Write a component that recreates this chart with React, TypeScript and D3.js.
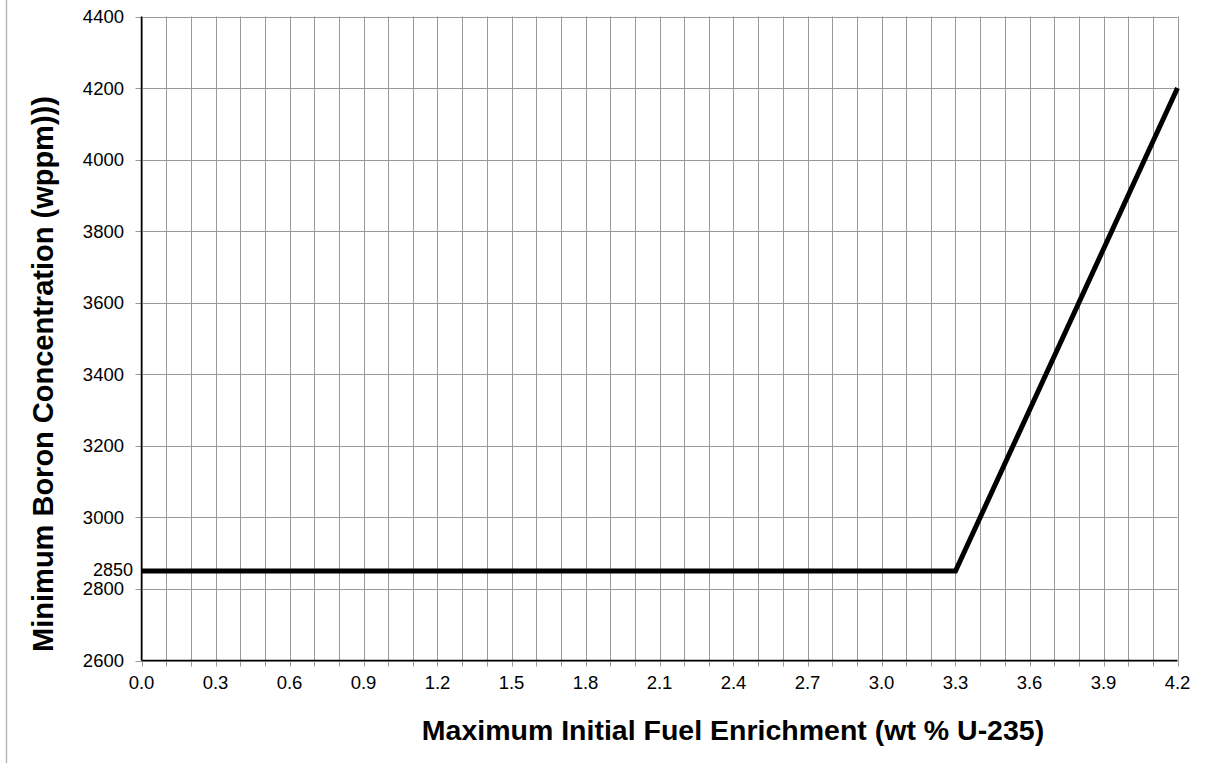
import React from "react";
import * as d3 from "d3";

const enrichment = [0.0, 3.3, 4.2];
const boron = [2850, 2850, 4200];
const xTickValues = d3.range(0, 43).map((i) => +(i * 0.1).toFixed(1));
const xLabelValues = [0.0, 0.3, 0.6, 0.9, 1.2, 1.5, 1.8, 2.1, 2.4, 2.7, 3.0, 3.3, 3.6, 3.9, 4.2];
const yTickValues = [2600, 2800, 3000, 3200, 3400, 3600, 3800, 4000, 4200, 4400];
const extraYLabel = 2850;
const xTitle = "Maximum Initial Fuel Enrichment (wt % U-235)";
const yTitle = "Minimum Boron Concentration (wppm)))";

const W = 1206;
const H = 763;
const left = 141.5;
const right = 1177.5;
const top = 16.5;
const bottom = 660.5;

export default function App() {
  const x = d3.scaleLinear().domain([0, 4.2]).range([left, right]);
  const y = d3.scaleLinear().domain([2600, 4400]).range([bottom, top]);
  const pts = enrichment.map((e, i) => [e, boron[i]] as [number, number]);
  const line = d3.line<[number, number]>().x((d) => x(d[0])).y((d) => y(d[1]));
  const font = "'Liberation Sans', Arial, sans-serif";
  return (
    <svg width={W} height={H} style={{ position: "absolute", left: 0, top: 0, background: "#fff" }}>
      <line x1={6.5} x2={6.5} y1={0} y2={H} stroke="#bbb" strokeWidth={1.5} />
      {xTickValues.map((v) => (
        <line key={"gx" + v} x1={Math.round(x(v)) + 0.5} x2={Math.round(x(v)) + 0.5} y1={top} y2={bottom} stroke="#999" strokeWidth={1} />
      ))}
      {yTickValues.map((v) => (
        <line key={"gy" + v} x1={left} x2={right} y1={Math.round(y(v)) + 0.5} y2={Math.round(y(v)) + 0.5} stroke="#999" strokeWidth={1} />
      ))}
      {xTickValues.map((v) => (
        <line key={"tx" + v} x1={Math.round(x(v)) + 0.5} x2={Math.round(x(v)) + 0.5} y1={bottom} y2={bottom + 6} stroke="#999" strokeWidth={1} />
      ))}
      {yTickValues.map((v) => (
        <line key={"ty" + v} x1={left - 6} x2={left} y1={Math.round(y(v)) + 0.5} y2={Math.round(y(v)) + 0.5} stroke="#999" strokeWidth={1} />
      ))}
      <line x1={left} x2={left} y1={top} y2={bottom} stroke="#000" strokeWidth={1.5} />
      <line x1={left} x2={right} y1={bottom} y2={bottom} stroke="#000" strokeWidth={1.5} />
      {xLabelValues.map((v) => (
        <text key={"lx" + v} x={x(v)} y={689} textAnchor="middle" fontFamily={font} fontSize={18.5} fill="#000">
          {v.toFixed(1)}
        </text>
      ))}
      {yTickValues.map((v) => (
        <text key={"ly" + v} x={124} y={y(v)} dy="0.35em" textAnchor="end" fontFamily={font} fontSize={18.5} fill="#000">
          {v}
        </text>
      ))}
      <text x={133} y={y(extraYLabel) - 1} dy="0.35em" textAnchor="end" fontFamily={font} fontSize={18} fill="#000">
        {extraYLabel}
      </text>
      <path d={line(pts) || ""} fill="none" stroke="#000" strokeWidth={5} strokeLinejoin="miter" />
      <text x={733} y={739.5} textAnchor="middle" fontFamily={font} fontSize={28.5} fontWeight="bold" fill="#000">
        {xTitle}
      </text>
      <text transform={`translate(53,${374}) rotate(-90)`} textAnchor="middle" fontFamily={font} fontSize={29} fontWeight="bold" fill="#000">
        {yTitle}
      </text>
    </svg>
  );
}
